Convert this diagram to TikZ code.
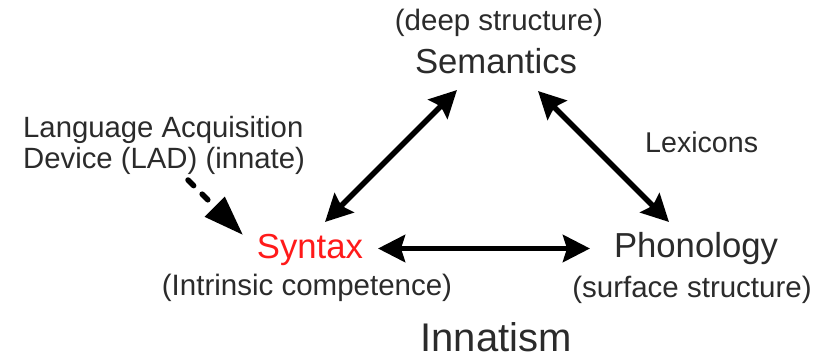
\documentclass[tikz,border=0pt]{standalone}
\usepackage{fontspec}
\setmainfont{Liberation Sans}
\usetikzlibrary{arrows.meta}
\definecolor{txt}{HTML}{2B2B2B}
\definecolor{synred}{HTML}{FF1A1A}
\begin{document}
\begin{tikzpicture}[x=1pt,y=-1pt,
  lbl/.style={inner sep=0pt, anchor=base, text=txt},
  main/.style={lbl, font=\fontsize{34.7}{40}\selectfont},
  sub/.style={lbl, font=\fontsize{29.5}{34}\selectfont},
  tip/.style={Stealth[length=27pt,width=27pt,inset=4pt]},
  link/.style={line width=5.5pt, {Stealth[length=27pt,width=27pt,inset=4pt]}-{Stealth[length=27pt,width=27pt,inset=4pt]}},
  hint/.style={line width=5.5pt, line cap=round, dash pattern=on 8pt off 12pt, -{Triangle[length=40pt,width=27pt]}},
]
\fill[white] (0,0) rectangle (815,359);
\useasboundingbox (0,0) rectangle (815,359);
\node[sub] (deep) at (499,30) {(deep structure)};
\node[main] (sem) at (496,73) {Semantics};
\node[main, text=synred] (syn) at (310,258) {Syntax};
\node[sub] (intr) at (307,295) {(Intrinsic competence)};
\node[main] (pho) at (696,257) {Phonology};
\node[sub] (surf) at (692,297) {(surface structure)};
\node[lbl, font=\fontsize{40}{46}\selectfont] (inn) at (496,351.5) {Innatism};
\node[sub, anchor=base west, font=\fontsize{29.3}{34}\selectfont] (lad1) at (23,137) {Language Acquisition};
\node[sub, anchor=base west, font=\fontsize{29.3}{34}\selectfont] (lad2) at (23,168) {Device (LAD) (innate)};
\node[lbl, anchor=base west, font=\fontsize{28.6}{33}\selectfont] (lex) at (645,152) {Lexicons};
\coordinate (synSem) at (325,222);
\coordinate (semSyn) at (457,90);
\coordinate (semPho) at (538,91);
\coordinate (phoSem) at (669,222);
\coordinate (synPho) at (378,248.5);
\coordinate (phoSyn) at (590,248.5);
\coordinate (ladStart) at (188,180);
\coordinate (ladEnd) at (243,235);
\draw[link] (synSem) -- (semSyn);
\draw[link] (semPho) -- (phoSem);
\draw[link] (synPho) -- (phoSyn);
\draw[hint] (ladStart) -- (ladEnd);
\end{tikzpicture}
\end{document}
